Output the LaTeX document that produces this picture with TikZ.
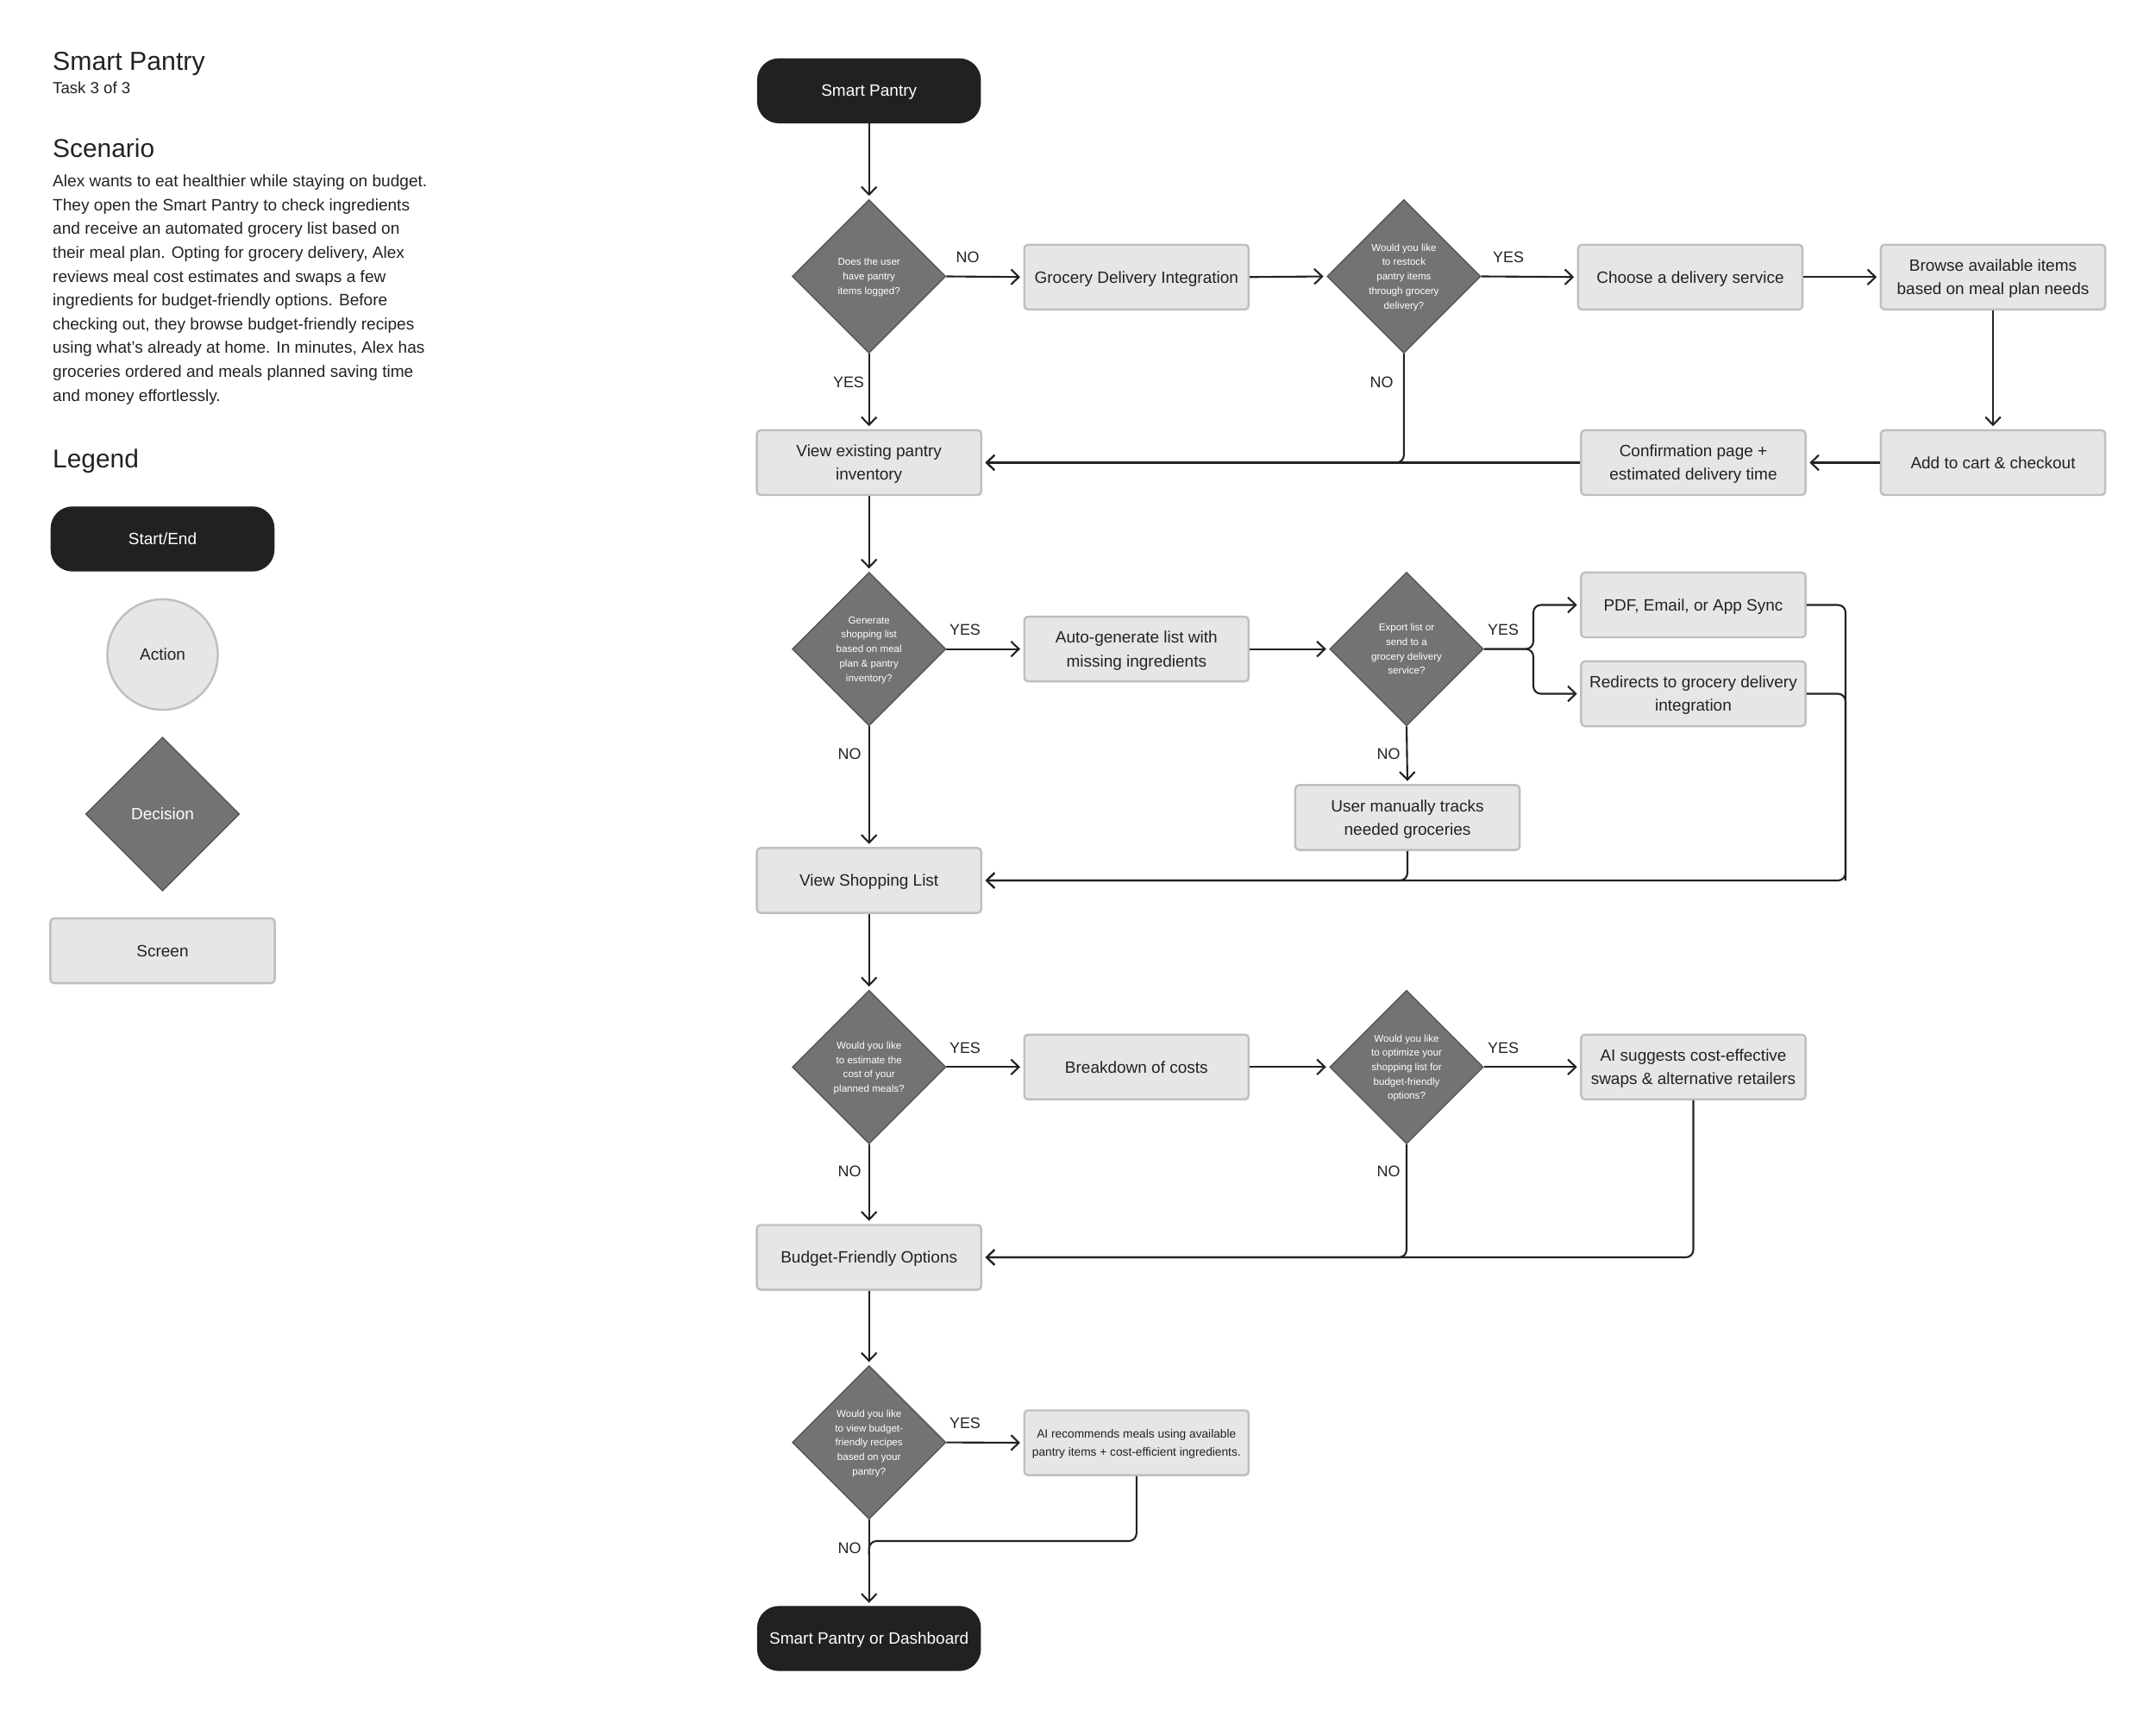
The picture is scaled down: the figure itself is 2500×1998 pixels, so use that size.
\documentclass[tikz,border=0pt]{standalone}
\usepackage{fontspec}
\setmainfont{Liberation Sans}
\usetikzlibrary{shapes.geometric,arrows.meta}
\definecolor{ink}{HTML}{222222}
\definecolor{boxfill}{HTML}{E6E6E6}
\definecolor{boxline}{HTML}{BFBFBF}
\definecolor{termfill}{HTML}{212121}
\definecolor{decfill}{HTML}{737373}
\definecolor{decline}{HTML}{555555}
\begin{document}
\begin{tikzpicture}[x=0.01cm,y=-0.01cm,
  screen/.style={draw=boxline, fill=boxfill, line width=0.7pt, rounded corners=1.2pt,
    minimum width=2.6cm, minimum height=0.75cm, inner sep=0pt, align=center, text=ink,
    text depth=0pt, font=\fontsize{5.4}{7.7}\selectfont},
  term/.style={draw=termfill, fill=termfill, rounded corners=7pt,
    minimum width=2.58cm, minimum height=0.74cm, inner sep=0pt, text=white,
    text depth=0pt, font=\fontsize{5.4}{7.7}\selectfont},
  decision/.style={diamond, aspect=1, draw=decline, fill=decfill, line width=0.4pt,
    minimum width=1.78cm, minimum height=1.78cm, inner sep=0pt, align=center,
    text=white, text depth=0pt, font=\fontsize{3.3}{4.75}\selectfont},
  action/.style={circle, draw=boxline, fill=boxfill, line width=0.7pt,
    minimum size=1.28cm, inner sep=0pt, text=ink, text depth=0pt,
    font=\fontsize{5.4}{7.7}\selectfont},
  lbl/.style={inner sep=0pt, text=ink, font=\fontsize{5.1}{6}\selectfont},
  body/.style={anchor=base west, inner sep=0pt, text=ink, font=\fontsize{5.43}{7.85}\selectfont},
  head/.style={anchor=base west, inner sep=0pt, text=ink, font=\fontsize{8.6}{10}\selectfont},
  arr/.style={draw=ink, line width=0.6pt, -{Straight Barb[length=2.6pt,width=5pt]}, shorten >=1pt},
  ln/.style={draw=ink, line width=0.6pt},
  rc/.style={rounded corners=2.5pt}
]
\useasboundingbox (0,0) rectangle (2500,1998);

% ---------- left column ----------
\node[head] (title) at (60.5,81.5) {Smart Pantry};
\node[body, font=\fontsize{5.3}{6.5}\selectfont] (task) at (60.5,109) {Task 3 of 3};
\node[head, font=\fontsize{8.5}{10}\selectfont] (scen) at (60.5,183) {Scenario};
\node[body] (b1) at (60.5,216.7) {Alex wants to eat healthier while staying on budget.};
\node[body] (b2) at (60.5,244.3) {They open the Smart Pantry to check ingredients};
\node[body] (b3) at (60.5,271.9) {and receive an automated grocery list based on};
\node[body] (b4) at (60.5,299.5) {their meal plan. Opting for grocery delivery, Alex};
\node[body] (b5) at (60.5,327.1) {reviews meal cost estimates and swaps a few};
\node[body] (b6) at (60.5,354.7) {ingredients for budget-friendly options. Before};
\node[body] (b7) at (60.5,382.3) {checking out, they browse budget-friendly recipes};
\node[body] (b8) at (60.5,409.9) {using what’s already at home. In minutes, Alex has};
\node[body] (b9) at (60.5,437.5) {groceries ordered and meals planned saving time};
\node[body] (b10) at (60.5,465.1) {and money effortlessly.};
\node[head, font=\fontsize{8.5}{10}\selectfont] (leg) at (60.5,543) {Legend};

\node[term] (lstart) at (188.5,625) {Start/End};
\node[action] (lact) at (188.5,759) {Action};
\node[decision, font=\fontsize{5.4}{7.7}\selectfont] (ldec) at (188.5,944) {Decision};
\node[screen] (lscr) at (188.5,1102.5) {Screen};

% ---------- main flow ----------
\node[term] (start) at (1007.7,105.3) {Smart Pantry};
\node[decision] (d1) at (1007.7,320.5) {Does the user\\have pantry\\items logged?};
\node[screen] (gdi) at (1317.8,321.3) {Grocery Delivery Integration};
\node[decision] (d2) at (1627.9,320.5) {Would you like\\to restock\\pantry items\\through grocery\\delivery?};
\node[screen] (choose) at (1960,321.3) {Choose a delivery service};
\node[screen] (browse) at (2311,321.3) {Browse available items\\based on meal plan needs};
\node[screen] (view) at (1007.7,536.5) {View existing pantry\\inventory};
\node[screen] (confirm) at (1963.5,536.5) {Confirmation page +\\estimated delivery time};
\node[screen] (cart) at (2311,536.5) {Add to cart \& checkout};

\node[decision] (d3) at (1007.7,752.6) {Generate\\shopping list\\based on meal\\plan \& pantry\\inventory?};
\node[screen] (autogen) at (1317.8,752.6) {Auto-generate list with\\missing ingredients};
\node[decision] (d4) at (1631,752.6) {Export list or\\send to a\\grocery delivery\\service?};
\node[screen] (pdf) at (1963.5,701.5) {PDF, Email, or App Sync};
\node[screen] (redir) at (1963.5,804.5) {Redirects to grocery delivery\\integration};
\node[screen] (manual) at (1632,948) {User manually tracks\\needed groceries};
\node[screen] (shop) at (1007.7,1021) {View Shopping List};

\node[decision] (d5) at (1007.7,1237.3) {Would you like\\to estimate the\\cost of your\\planned meals?};
\node[screen] (breakdown) at (1317.8,1237.3) {Breakdown of costs};
\node[decision] (d6) at (1631,1237.3) {Would you like\\to optimize your\\shopping list for\\budget-friendly\\options?};
\node[screen] (aisug) at (1963.5,1237.3) {AI suggests cost-effective\\swaps \& alternative retailers};
\node[screen] (budget) at (1007.7,1458) {Budget-Friendly Options};

\node[decision] (d7) at (1007.7,1672.6) {Would you like\\to view budget-\\friendly recipes\\based on your\\pantry?};
\node[screen, font=\fontsize{3.9}{5.9}\selectfont] (airec) at (1317.8,1673) {AI recommends meals using available\\pantry items + cost-efficient ingredients.};
\node[term] (endn) at (1007.7,1900) {Smart Pantry or Dashboard};

% ---------- labels ----------
\node[lbl] (l1) at (1122,298) {NO};
\node[lbl] (l2) at (984,443) {YES};
\node[lbl] (l3) at (1749,298) {YES};
\node[lbl] (l4) at (1602,443) {NO};
\node[lbl] (l5) at (1119,730) {YES};
\node[lbl] (l6) at (985,874) {NO};
\node[lbl] (l7) at (1743,730) {YES};
\node[lbl] (l8) at (1610,874) {NO};
\node[lbl] (l9) at (1119,1215) {YES};
\node[lbl] (l10) at (985,1358) {NO};
\node[lbl] (l11) at (1743,1215) {YES};
\node[lbl] (l12) at (1610,1358) {NO};
\node[lbl] (l13) at (1119,1650) {YES};
\node[lbl] (l14) at (985,1795) {NO};

% ---------- helper coordinates ----------
\coordinate (bx) at (1778,752.6);
\coordinate (rx) at (2140,1021);
\coordinate (mj) at (1007.7,1787);

% ---------- connectors ----------
\draw[arr] (start.south) -- (d1.north);
\draw[arr] (d1.east) -- (gdi.west);
\draw[arr] (gdi.east) -- (d2.west);
\draw[arr] (d2.east) -- (choose.west);
\draw[arr] (choose.east) -- (browse.west);
\draw[arr] (browse.south) -- (cart.north);
\draw[arr] (cart.west) -- (confirm.east);
\draw[arr] (confirm.west) -- (view.east);
\draw[arr, rc] (d2.south) |- (view.east);
\draw[arr] (d1.south) -- (view.north);

\draw[arr] (view.south) -- (d3.north);
\draw[arr] (d3.east) -- (autogen.west);
\draw[arr] (autogen.east) -- (d4.west);
\draw[arr, rc] (d4.east) -- (bx) |- (pdf.west);
\draw[arr, rc] (d4.east) -- (bx) |- (redir.west);
\draw[arr] (d4.south) -- (manual.north);
\draw[arr, rc] (manual.south) |- (shop.east);
\draw[arr, rc] (pdf.east) -| (rx) -- (shop.east);
\draw[ln, rc] (redir.east) -| (rx);
\draw[arr] (d3.south) -- (shop.north);

\draw[arr] (shop.south) -- (d5.north);
\draw[arr] (d5.east) -- (breakdown.west);
\draw[arr] (breakdown.east) -- (d6.west);
\draw[arr] (d6.east) -- (aisug.west);
\draw[arr, rc] (d6.south) |- (budget.east);
\draw[arr, rc] (aisug.south) |- (budget.east);
\draw[arr] (d5.south) -- (budget.north);

\draw[arr] (budget.south) -- (d7.north);
\draw[arr] (d7.east) -- (airec.west);
\draw[ln, rc] (airec.south) |- (mj) -- ++(0,16);
\draw[arr] (d7.south) -- (endn.north);
\end{tikzpicture}
\end{document}
